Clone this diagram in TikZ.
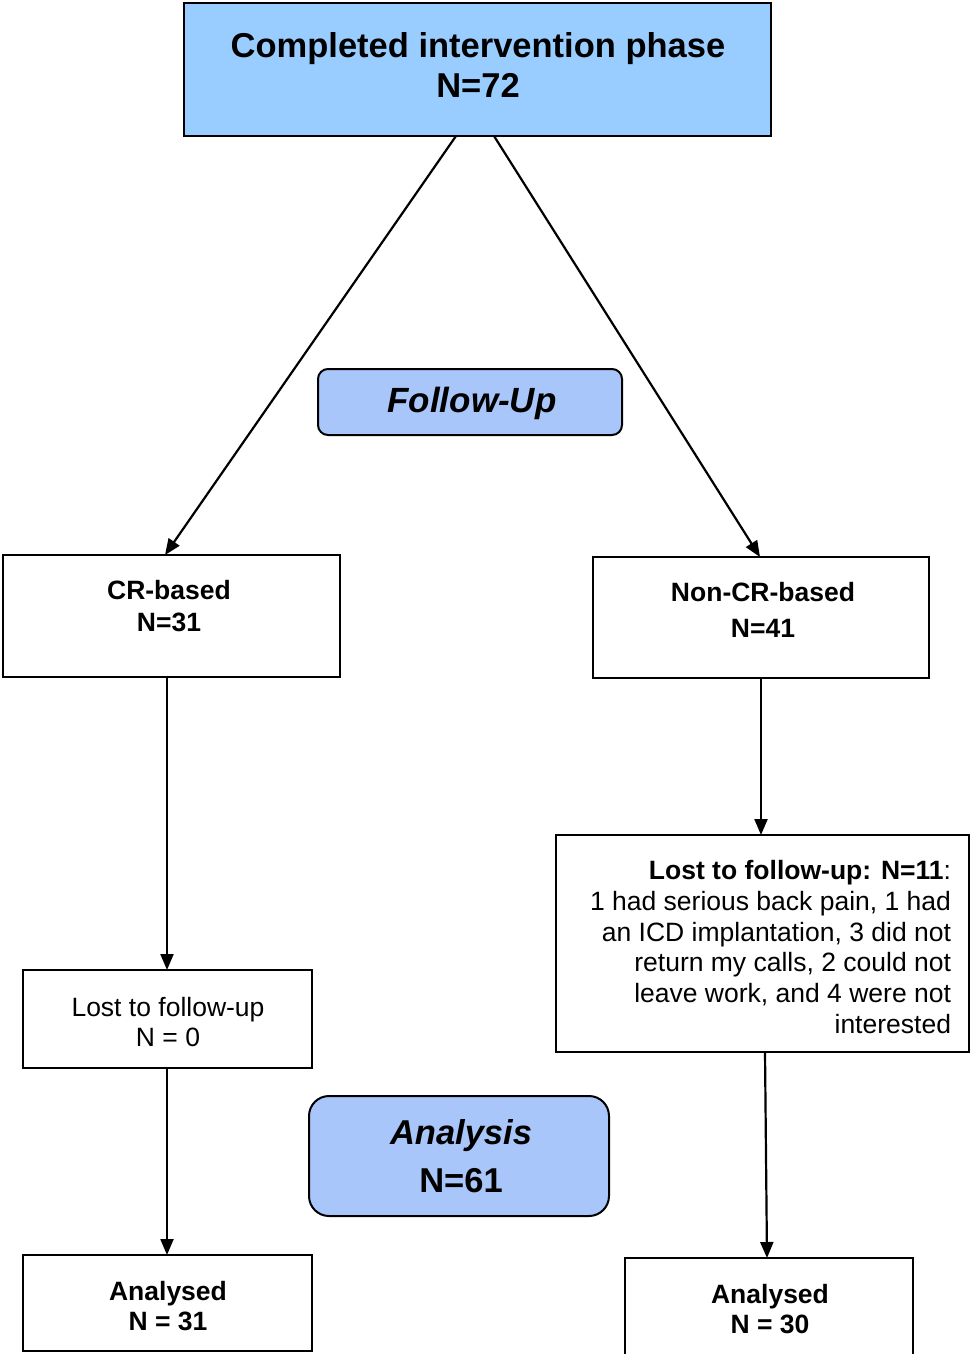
\documentclass[tikz,border=0pt]{standalone}
\usepackage{fontspec}
\setmainfont{Liberation Sans}
\usetikzlibrary{arrows.meta}
\definecolor{headblue}{RGB}{153,204,255}
\definecolor{phaseblue}{RGB}{168,198,250}
\tikzset{
  box/.style={draw=black, line width=2pt, fill=white, inner sep=0pt, outer sep=0pt},
  txt/.style={inner sep=0pt, outer sep=0pt, align=center, text=black},
  flow/.style={draw=black, line width=2.2pt, -{Triangle[length=16pt,width=13pt]}},
  bodyfont/.style={font=\fontsize{26.5}{#1}\selectfont},
  boldfont/.style={font=\fontsize{26.5}{#1}\selectfont\bfseries}
}
\begin{document}
\begin{tikzpicture}[x=1pt, y=-1pt]
  \useasboundingbox (0,0) rectangle (970,1354);
  \clip (0,0) rectangle (970,1354);
  \fill[white] (0,0) rectangle (970,1354);

  % boxes
  \node[box, fill=headblue, minimum width=587, minimum height=133] (top) at (477.5,69.5) {};
  \node[box, fill=phaseblue, rounded corners=10pt, minimum width=304, minimum height=66] (fu) at (470,402) {};
  \node[box, minimum width=337, minimum height=122] (cr) at (171.5,616) {};
  \node[box, minimum width=336, minimum height=121] (ncr) at (761,617.5) {};
  \node[box, minimum width=413, minimum height=217] (lostR) at (762.5,943.5) {};
  \node[box, minimum width=289, minimum height=98] (lostL) at (167.5,1019) {};
  \node[box, fill=phaseblue, rounded corners=20pt, minimum width=300, minimum height=120] (an) at (459,1156) {};
  \node[box, minimum width=289, minimum height=96] (aL) at (167.5,1303) {};
  \node[box, minimum width=288, minimum height=110] (aR) at (769,1313) {};

  % texts
  \node[txt, font=\fontsize{34.5}{40}\selectfont\bfseries] (topT) at (478,65)
    {Completed intervention phase\\N=72};
  \node[txt, font=\fontsize{35}{40}\selectfont\bfseries\itshape] (fuT) at (472,403) {Follow-Up};
  \node[txt, boldfont=32] (crT) at (169,606) {CR-based\\N=31};
  \node[txt, boldfont=36] (ncrT) at (763,610) {Non-CR-based\\N=41};
  \node[txt, bodyfont=30.7, align=right, anchor=east] (lostRT) at (951,947)
    {\textbf{Lost to follow-up: N=11}:\\
     1 had serious back pain, 1 had\\
     an ICD implantation, 3 did not\\
     return my calls, 2 could not\\
     leave work, and 4 were not\\
     interested};
  \node[txt, bodyfont=30] (lostLT) at (168,1022) {Lost to follow-up\\N = 0};
  \node[txt, font=\fontsize{34.5}{48}\selectfont\bfseries] (anT) at (461,1156)
    {\textit{Analysis}\\N=61};
  \node[txt, boldfont=30] (aLT) at (168,1306) {Analysed\\N = 31};
  \node[txt, boldfont=30] (aRT) at (770,1309) {Analysed\\N = 30};

  % connectors
  \draw[flow] ([xshift=-21.5]top.south) -- ([xshift=-6.5]cr.north);
  \draw[flow] ([xshift=16.5]top.south) -- ([xshift=-1]ncr.north);
  \draw[flow] ([xshift=-4.5]cr.south) -- ([xshift=-0.5]lostL.north);
  \draw[flow] (ncr.south) -- ([xshift=-1.5]lostR.north);
  \draw[flow] ([xshift=-0.5]lostL.south) -- ([xshift=-0.5]aL.north);
  \draw[flow] ([xshift=2.5]lostR.south) -- ([xshift=-2]aR.north);
\end{tikzpicture}
\end{document}
